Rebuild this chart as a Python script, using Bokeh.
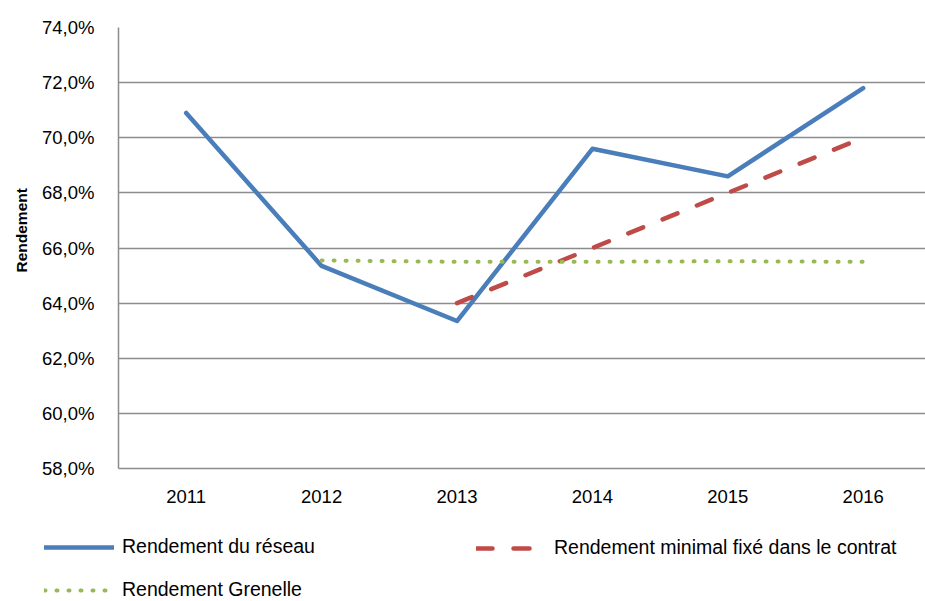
from bokeh.plotting import figure
from bokeh.layouts import column, row
from bokeh.models import Range1d, FixedTicker, Legend, LegendItem, Title
from bokeh.embed import file_html
from bokeh.resources import INLINE

years = [2011, 2012, 2013, 2014, 2015, 2016]
rendement_reseau = [70.9, 65.35, 63.35, 69.6, 68.6, 71.8]
years_contrat = [2013, 2014, 2015, 2016]
rendement_contrat = [64.0, 66.0, 68.0, 70.0]
years_grenelle = [2012, 2013, 2014, 2015, 2016]
rendement_grenelle = [65.55, 65.5, 65.5, 65.52, 65.5]
y_ticks = [58, 60, 62, 64, 66, 68, 70, 72, 74]
series_labels = ["Rendement du réseau", "Rendement minimal fixé dans le contrat", "Rendement Grenelle"]
y_title = "Rendement"

FONT = "Liberation Sans, Arial, sans-serif"
GRID = "#8c8c8c"
STYLES = [
    dict(line_color="#4A7EBB", line_width=4.5, line_join="round", line_cap="round"),
    dict(line_color="#BE4B48", line_width=4.5, line_dash="16 21", line_cap="round"),
    dict(line_color="#98B954", line_width=4, line_dash="1 11", line_cap="round"),
]
SERIES = [(years, rendement_reseau), (years_contrat, rendement_contrat), (years_grenelle, rendement_grenelle)]

p = figure(width=925, height=520, output_backend="svg", toolbar_location=None,
           min_border_left=118, min_border_right=0, min_border_top=27, min_border_bottom=52,
           x_range=Range1d(2010.5, 2010.5 + 807 / 135.4), y_range=Range1d(58, 74))
p.outline_line_color = None
p.background_fill_color = "white"
p.border_fill_color = "white"

p.xaxis.ticker = FixedTicker(ticks=years)
p.xaxis.major_label_overrides = {y: str(y) for y in years}
p.yaxis.ticker = FixedTicker(ticks=y_ticks)
p.yaxis.major_label_overrides = {t: f"{t:.1f}%".replace(".", ",") for t in y_ticks}
for ax in (p.xaxis[0], p.yaxis[0]):
    ax.axis_line_color = GRID
    ax.axis_line_width = 1.5
    ax.major_tick_line_color = None
    ax.minor_tick_line_color = None
    ax.major_tick_in = 0
    ax.major_tick_out = 0
    ax.major_label_text_font = FONT
    ax.major_label_text_font_size = "18.5px"
    ax.major_label_text_color = "#000000"
p.xaxis.major_label_standoff = 21
p.yaxis.major_label_standoff = 24

# vertical axis title, slightly above the frame centre as in the original
p.add_layout(Title(text=y_title, align="left", offset=196, standoff=20,
                   text_font=FONT, text_font_style="bold", text_font_size="15.5px",
                   text_color="#000000"), "left")

p.xgrid.grid_line_color = None
p.ygrid.grid_line_color = GRID
p.ygrid.grid_line_width = 1.3
p.ygrid.ticker = FixedTicker(ticks=y_ticks)

for (xs, ys), st in zip(SERIES, STYLES):
    p.line(xs, ys, **st)

# legend strip below the chart (its data lie outside its view; only the legend shows)
q = figure(width=925, height=81, output_backend="svg", toolbar_location=None,
           min_border=0, min_border_left=0, x_axis_type=None, y_axis_type=None,
           x_range=Range1d(0, 1), y_range=Range1d(0, 1))
q.outline_line_color = None
q.grid.visible = False
q.border_fill_color = "white"
q.background_fill_color = "white"
proxies = [q.line(xs, ys, **st) for (xs, ys), st in zip(SERIES, STYLES)]


def make_legend(items, loc):
    lg = Legend(items=items, orientation="vertical", location=loc)
    lg.border_line_color = None
    lg.background_fill_alpha = 0
    lg.padding = 0
    lg.margin = 0
    lg.spacing = 20
    lg.glyph_width = 70
    lg.glyph_height = 22
    lg.label_height = 22
    lg.label_standoff = 8
    lg.label_text_font = FONT
    lg.label_text_font_size = "19.5px"
    lg.label_text_color = "#000000"
    lg.label_text_baseline = "middle"
    return lg


leg_a = make_legend([LegendItem(label=series_labels[0], renderers=[proxies[0]]),
                     LegendItem(label=series_labels[2], renderers=[proxies[2]])], (44, 0))
leg_b = make_legend([LegendItem(label=series_labels[1], renderers=[proxies[1]])], (476, 42))
q.add_layout(leg_a, "center")
q.add_layout(leg_b, "center")

layout = column(p, row(q), spacing=0)
open("out.html", "w").write(file_html(layout, INLINE))
